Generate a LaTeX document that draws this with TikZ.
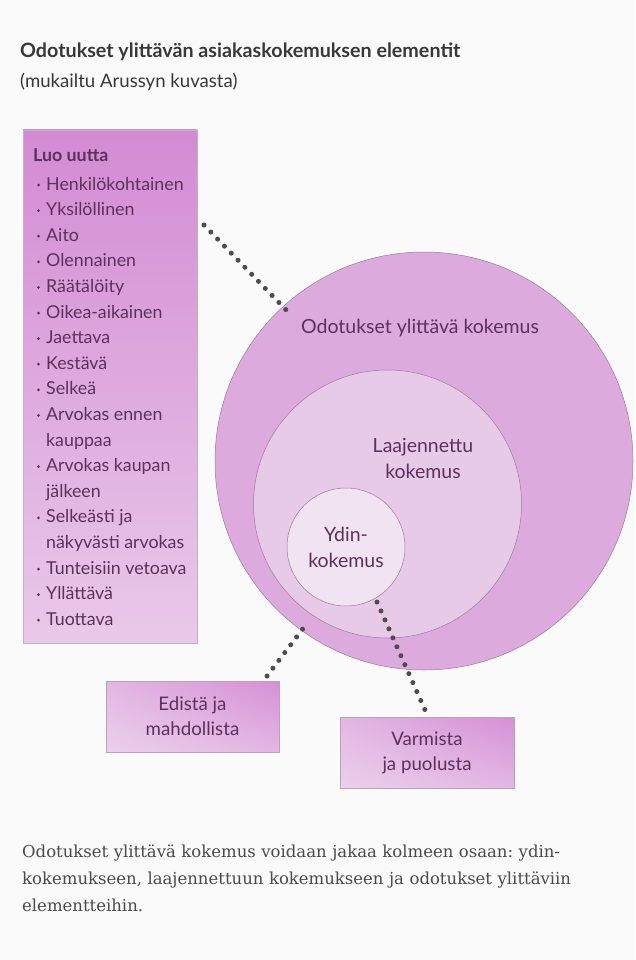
\documentclass[tikz,border=0pt]{standalone}
\usepackage{fontspec}
\setmainfont{Lato}
\newfontfamily\serifpara{DejaVu Serif}
\usetikzlibrary{shadings}
\definecolor{paper}{HTML}{FAFAFA}
\definecolor{txtpurple}{HTML}{5C315C}
\definecolor{titlegray}{HTML}{383838}
\definecolor{paragray}{HTML}{4A4A4A}
\definecolor{dotgray}{HTML}{4C4C4C}
\definecolor{boxtop}{HTML}{D38BD3}
\definecolor{boxbottom}{HTML}{E9C9E9}
\definecolor{outerfill}{HTML}{DCAADC}
\definecolor{midfill}{HTML}{E7CAE7}
\definecolor{innerfill}{HTML}{F1E3F1}
\definecolor{ringline}{HTML}{9E7A9E}
\definecolor{smallhi}{HTML}{D690D6}
\definecolor{smalllo}{HTML}{EBD0EB}
\tikzset{
  ring/.style={circle, draw=ringline, line width=0.5pt, inner sep=0pt},
  listtxt/.style={anchor=base west, inner sep=0pt, text=txtpurple, font=\fontsize{17.8}{25}\selectfont},
  lbl/.style={align=center, text=txtpurple, font=\fontsize{19.5}{26}\selectfont, inner sep=0pt},
  smallbox/.style={draw=ringline!70, line width=0.4pt, inner sep=0pt, align=center, text=txtpurple,
    font=\fontsize{18.7}{25}\selectfont, lower left=smalllo, upper right=smallhi, upper left=smallhi!40!smalllo, lower right=smallhi!40!smalllo},
  dotline/.style={dotgray, line width=5pt, line cap=round, dash pattern=on 0pt off 9.8pt},
}
\begin{document}
\begin{tikzpicture}[x=1pt,y=-1pt]
\fill[paper] (0,0) rectangle (635,960);
\useasboundingbox (0,0) rectangle (635,960);
% title
\node[anchor=base west, inner sep=0pt, text=titlegray, font=\fontsize{19.7}{22}\selectfont\bfseries] (title) at (20,58) {Odotukset ylittävän asiakaskokemuksen elementit};
\node[anchor=base west, inner sep=0pt, text=titlegray, font=\fontsize{18.6}{22}\selectfont] (subtitle) at (20,88) {(mukailtu Arussyn kuvasta)};
% left box
\node[draw=ringline!60, line width=0.4pt, minimum width=174pt, minimum height=513pt, inner sep=0pt,
  top color=boxtop, bottom color=boxbottom] (luo) at (110,386.5) {};
\node[listtxt, font=\fontsize{17.8}{25}\selectfont\bfseries] (luohead) at (33,162) {Luo uutta};
\foreach \t/\b [count=\i] in {Henkilökohtainen/1, Yksilöllinen/1, Aito/1, Olennainen/1, Räätälöity/1,
  Oikea-aikainen/1, Jaettava/1, Kestävä/1, Selkeä/1, Arvokas ennen/1, kauppaa/0, Arvokas kaupan/1,
  jälkeen/0, Selkeästi ja/1, näkyvästi arvokas/0, Tunteisiin vetoava/1, Yllättävä/1, Tuottava/1}{
  \node[listtxt] (item\i) at (46,{190+(\i-1)*25.6}) {\t};
  \ifnum\b=1 \fill[txtpurple] (38.5,{190+(\i-1)*25.6-5}) circle (1.5pt); \fi
}
% circles
\node[ring, fill=outerfill, minimum size=418pt] (outer) at (424,461) {};
\node[ring, fill=midfill, minimum size=268pt] (mid) at (387.5,504) {};
\node[ring, fill=innerfill, minimum size=118pt, lbl] (inner) at (346,547) {Ydin-\\kokemus};
\node[lbl] (outerlbl) at (420,328) {Odotukset ylittävä kokemus};
\node[lbl] (midlbl) at (423,458) {Laajennettu\\kokemus};
% small boxes
\node[smallbox, minimum width=173pt, minimum height=71pt] (edista) at (192.5,716.5) {Edistä ja\\mahdollista};
\node[smallbox, minimum width=174pt, minimum height=71pt] (varmista) at (427,752.5) {Varmista\\ja puolusta};
% dotted connectors
\coordinate (d1a) at (204,225);
\coordinate (d1b) at (290,314);
\coordinate (d2a) at (267,676);
\coordinate (d2b) at (308,622);
\coordinate (d3a) at (377,602);
\coordinate (d3b) at (425,710);
\draw[dotline] (d1a) -- (d1b);
\draw[dotline] (d2a) -- (d2b);
\draw[dotline] (d3a) -- (d3b);
% paragraph
\node[anchor=north west, inner sep=0pt, text width=590pt, text=paragray,
  font=\serifpara\fontsize{16.5}{26.8}\selectfont\frenchspacing] (para) at (22,845)
  {Odotukset ylittävä kokemus voidaan jakaa kolmeen osaan: ydin-\linebreak kokemukseen, laajennettuun kokemukseen ja odotukset ylittäviin\linebreak elementteihin.};
\end{tikzpicture}
\end{document}
